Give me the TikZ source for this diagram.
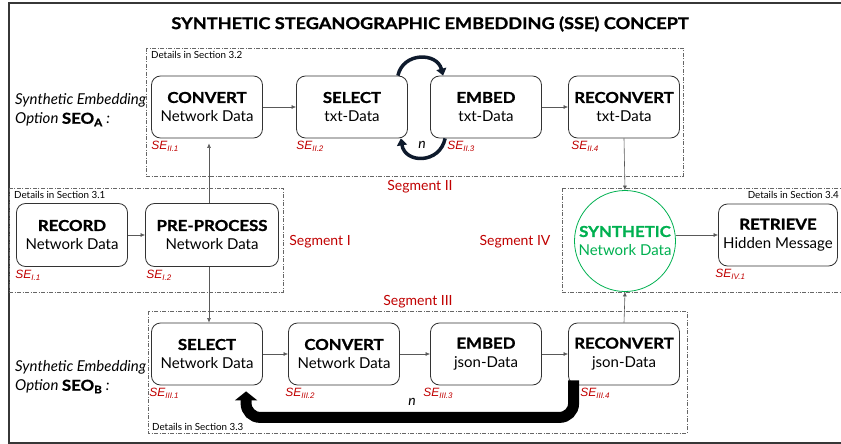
\documentclass[tikz,border=0pt]{standalone}
\usepackage{fontspec}
\setmainfont{Lato}
\newfontfamily\headfont[FakeStretch = 1.12, FakeBold = 1.2]{Lato}
\newfontfamily\sefont{Liberation Sans}
\usetikzlibrary{arrows.meta}
\definecolor{segred}{RGB}{192, 0, 0}
\definecolor{synth}{RGB}{0, 176, 80}
\definecolor{loopc}{RGB}{14, 26, 44}
\definecolor{framegray}{RGB}{55, 55, 55}
\newcommand{\hd}[1]{{\headfont\bfseries #1}}

\tikzset{
    stage/.style = {draw = black!80, line width = 0.8pt, rounded corners = 9pt, minimum width = 111pt, minimum height = 62pt, align = center, inner sep = 2pt, font = \fontsize{15}{19}\selectfont},
    segbox/.style = {draw = black!60, line width = 0.7pt, dash pattern = on 4pt off 1.5pt on 1pt off 1.5pt},
    details/.style = {font = \fontsize{9.8}{11}\selectfont, inner sep = 1pt},
    seglabel/.style = {text = segred, font = \fontsize{14}{16}\selectfont},
    selabel/.style = {text = segred, font = \sefont\itshape\fontsize{12}{13}\selectfont, inner sep = 0pt, anchor = north west},
    seo/.style = {font = \itshape\fontsize{15}{19}\selectfont, align = left, anchor = west, inner sep = 0pt},
    flow/.style = {-{Latex[length = 4.5pt, width = 4pt]}, draw = black!65, line width = 0.6pt},
    cycle/.style = {-{Triangle[length = 7pt, width = 10pt]}, draw = loopc, line width = 3.5pt},
    loopback/.style = {-{Triangle[length = 9pt, width = 22pt]}, draw = black, line width = 11pt, rounded corners = 14pt}
}

\begin{document}
\begin{tikzpicture}[x = 1pt, y = -1pt]
    \clip (0,0) rectangle (841,444);
    \draw[framegray, line width = 1.5pt] (9,3) rectangle (860,443);

    \node[font = \headfont\bfseries\fontsize{16.2}{19}\selectfont] (title) at (430,24) {SYNTHETIC STEGANOGRAPHIC EMBEDDING (SSE) CONCEPT};

    % segment frames
    \draw[segbox] (146,48) rectangle (683,176);
    \draw[segbox] (9,188) rectangle (283,292);
    \draw[segbox] (562,188) rectangle (860,292);
    \draw[segbox] (148,311) rectangle (687,433);

    \node[details, anchor = north west] (det2) at (150,50) {Details in Section 3.2};
    \node[details, anchor = north west] (det1) at (13,190) {Details in Section 3.1};
    \node[details, anchor = north east] (det4) at (840,190) {Details in Section 3.4};
    \node[details, anchor = south west] (det3) at (151,432) {Details in Section 3.3};

    \node[seglabel] (seg2) at (420,187) {Segment II};
    \node[seglabel] (seg1) at (320,242) {Segment I};
    \node[seglabel] (seg4) at (515,242) {Segment IV};
    \node[seglabel] (seg3) at (418,302) {Segment III};

    \node[seo] (seoa) at (15,110) {Synthetic Embedding\\Option {\upshape\headfont\bfseries SEO\textsubscript{A}} :};
    \node[seo] (seob) at (15,377) {Synthetic Embedding\\Option {\upshape\headfont\bfseries SEO\textsubscript{B}} :};

    % option A
    \node[stage] (conva) at (207,107) {\hd{CONVERT}\\Network Data};
    \node[stage] (sela) at (352,107) {\hd{SELECT}\\txt-Data};
    \node[stage] (emba) at (486,107) {\hd{EMBED}\\txt-Data};
    \node[stage] (reca) at (624,107) {\hd{RECONVERT}\\txt-Data};

    % segment I and IV
    \node[stage, minimum height = 63pt] (record) at (72,235) {\hd{RECORD}\\Network Data};
    \node[stage, minimum height = 63pt, minimum width = 133pt] (prep) at (212,235) {\hd{PRE-PROCESS}\\Network Data};
    \node[circle, draw = synth, line width = 0.8pt, minimum size = 101pt, inner sep = 0pt, align = center, text = synth, font = \fontsize{15}{19}\selectfont] (synth) at (625,241) {\hd{SYNTHETIC}\\Network Data};
    \node[stage, minimum width = 119pt] (retr) at (778,235) {\hd{RETRIEVE}\\Hidden Message};

    % option B
    \node[stage] (selb) at (207,354) {\hd{SELECT}\\Network Data};
    \node[stage] (convb) at (344,354) {\hd{CONVERT}\\Network Data};
    \node[stage] (embb) at (486,354) {\hd{EMBED}\\json-Data};
    \node[stage] (recb) at (624,354) {\hd{RECONVERT}\\json-Data};

    \node[selabel] (se21) at ([yshift = -3pt]conva.south west) {SE\textsubscript{II.1}};
    \node[selabel] (se22) at ([yshift = -3pt]sela.south west) {SE\textsubscript{II.2}};
    \node[selabel] (se23) at ([xshift = 17pt, yshift = -3pt]emba.south west) {SE\textsubscript{II.3}};
    \node[selabel] (se24) at ([xshift = 3pt, yshift = -3pt]reca.south west) {SE\textsubscript{II.4}};
    \node[selabel] (se11) at ([xshift = -1pt, yshift = -3pt]record.south west) {SE\textsubscript{I.1}};
    \node[selabel] (se12) at ([xshift = 1pt, yshift = -3pt]prep.south west) {SE\textsubscript{I.2}};
    \node[selabel] (se41) at ([xshift = -3pt, yshift = -3pt]retr.south west) {SE\textsubscript{IV.1}};
    \node[selabel] (se31) at ([xshift = -2pt, yshift = -3pt]selb.south west) {SE\textsubscript{III.1}};
    \node[selabel] (se32) at ([xshift = -3pt, yshift = -3pt]convb.south west) {SE\textsubscript{III.2}};
    \node[selabel] (se33) at ([xshift = -7pt, yshift = -3pt]embb.south west) {SE\textsubscript{III.3}};
    \node[selabel] (se34) at ([xshift = 12pt, yshift = -3pt]recb.south west) {SE\textsubscript{III.4}};

    \draw[flow] (conva) -- (sela);
    \draw[flow] (emba) -- (reca);
    \draw[flow] (record) -- (prep);
    \draw[flow] ([xshift = -3pt]prep.north) -- ([xshift = 2pt, yshift = -5pt]conva.south);
    \draw[flow] ([xshift = -3pt]prep.south) -- ([xshift = 2pt]selb.north);
    \draw[flow] (reca.south) -- (synth.north);
    \draw[flow] (recb.north) -- (synth.south);
    \draw[flow] (synth.east |- retr.west) -- (retr.west);
    \draw[flow] (selb) -- (convb);
    \draw[flow] (convb) -- (embb);
    \draw[flow] (embb) -- (recb);

    % n-times loops
    \draw[cycle] ([xshift = -10pt]sela.north east) .. controls (403,52) and (437,52) .. ([xshift = 13pt]emba.north west);
    \draw[cycle] ([xshift = 15pt]emba.south west) .. controls (440,164) and (405,164) .. ([xshift = -7pt]sela.south east);
    \node[font = \itshape\fontsize{14}{16}\selectfont] (na) at (422,145) {n};

    \draw[loopback] ([xshift = 5.5pt, yshift = 5pt]recb.south west) -- ++(0,37) -| ([xshift = 95pt, yshift = -6pt]selb.south west);
    \node[font = \itshape\fontsize{14}{16}\selectfont] (nb) at (412,402) {n};
\end{tikzpicture}
\end{document}
